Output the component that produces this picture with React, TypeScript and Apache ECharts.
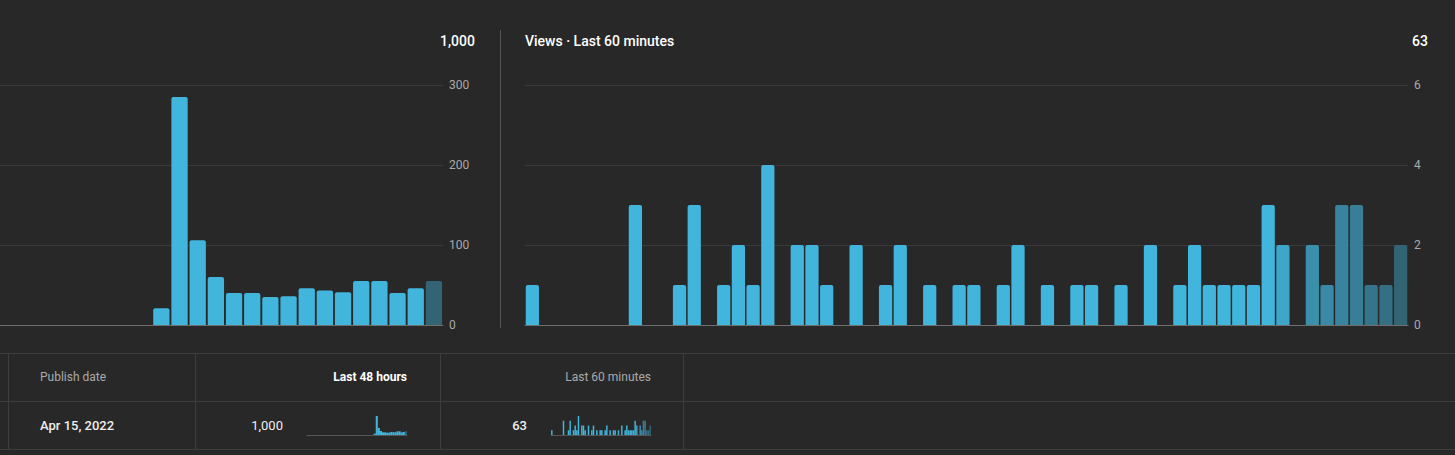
import React, { useEffect, useRef } from "react";
import * as echarts from "echarts";

// Last 48 hours (hourly views)
const hours48: number[] = [
  0, 0, 0, 0, 0, 0, 0, 0, 0, 0, 0, 0, 0, 0, 0, 0,
  0, 0, 0, 0, 0, 0, 0, 0, 0, 0, 0, 0, 0, 0, 0, 0,
  21, 285, 106, 60, 40, 40, 35, 36, 46, 43, 41, 55, 55, 40, 46, 55,
];
// Last 60 minutes (per-minute views)
const minutes60: number[] = [
  1, 0, 0, 0, 0, 0, 0, 3, 0, 0, 1, 3, 0, 1, 2, 1, 4, 0, 2, 2,
  1, 0, 2, 0, 1, 2, 0, 1, 0, 1, 1, 0, 1, 2, 0, 1, 0, 1, 1, 0,
  1, 0, 2, 0, 1, 2, 1, 1, 1, 1, 3, 2, 0, 2, 1, 3, 3, 1, 1, 2,
];
const leftTicks = [0, 100, 200, 300];
const rightTicks = [0, 2, 4, 6];

const totalLeft = "1,000";
const totalRight = "63";
const rightTitle = "Views · Last 60 minutes";
const publishDate = "Apr 15, 2022";
const headerCols = ["Publish date", "Last 48 hours", "Last 60 minutes"];

const MAIN = "#41b5db";
const DARK = "#326473";
// fade colours for most recent minutes (style only)
const minuteFade: Record<number, string> = {
  51: "#3ea6c9",
  53: "#3a90ab",
  54: "#398aa6",
  55: "#38839e",
  56: "#377e96",
  57: "#35758b",
  58: "#346f84",
  59: "#326473",
};

const FONT = "Roboto, 'Noto Sans', sans-serif";

export default function App() {
  const ref = useRef<HTMLDivElement>(null);
  useEffect(() => {
    if (!ref.current) return;
    const chart = echarts.init(ref.current, undefined, { renderer: "svg" });

    const hourData = hours48.map((v, i) => ({
      value: v,
      itemStyle: { color: i === hours48.length - 1 ? DARK : MAIN },
    }));
    const hourDataXY = hours48.map((v, i) => ({
      value: [i, v],
      itemStyle: { color: i === hours48.length - 1 ? DARK : MAIN },
    }));
    const minData = minutes60.map((v, i) => ({
      value: v,
      itemStyle: { color: minuteFade[i] || MAIN },
    }));
    const hourCats = hours48.map((_, i) => String(i));
    const minCats = minutes60.map((_, i) => String(i));

    const lineColor = "#3d3d3d";
    const tableLines: any[] = [];
    [353, 401, 449].forEach((y) =>
      tableLines.push({
        type: "line",
        shape: { x1: 0, y1: y + 0.5, x2: 1455, y2: y + 0.5 },
        style: { stroke: lineColor, lineWidth: 1 },
      })
    );
    [8, 195, 440, 683].forEach((x) =>
      tableLines.push({
        type: "line",
        shape: { x1: x + 0.5, y1: 353, x2: x + 0.5, y2: 449 },
        style: { stroke: lineColor, lineWidth: 1 },
      })
    );

    const txt = (
      x: number,
      y: number,
      text: string,
      opts: { align?: string; color?: string; size?: number; weight?: any }
    ) => ({
      type: "text",
      x,
      y,
      style: {
        text,
        fill: opts.color || "#fff",
        font: `${opts.weight || "normal"} ${opts.size || 12}px ${FONT}`,
        align: opts.align || "left",
        verticalAlign: "middle",
      },
    });

    const yAxisCommon = {
      type: "value",
      position: "right",
      axisLine: { show: false },
      axisTick: { show: false },
      splitLine: { lineStyle: { color: "#3a3a3a", width: 1 } },
      axisLabel: {
        color: "#aaaaaa",
        fontSize: 12,
        fontFamily: FONT,
        margin: 6,
      },
    };

    // visible window of the 48-hour chart (it is scrolled to the latest hours)
    const slotPx = 18.17;
    const leftPlotWidth = 443;
    const hourMax = hours48.length - 0.5;
    const hourMin = hourMax - leftPlotWidth / slotPx;

    chart.setOption({
      animation: false,
      backgroundColor: "#282828",
      grid: [
        { left: 0, width: leftPlotWidth, top: 85, height: 240 },
        { left: 525, width: 883, top: 85, height: 240 },
        { left: 307, width: 100, top: 416, height: 19 },
        { left: 551, width: 100, top: 416, height: 19 },
      ],
      xAxis: [
        {
          type: "value",
          gridIndex: 0,
          min: hourMin,
          max: hourMax,
          axisLine: { onZero: false, lineStyle: { color: "#6f6f6f", width: 1 } },
          axisTick: { show: false },
          axisLabel: { show: false },
          splitLine: { show: false },
        },
        {
          type: "category",
          gridIndex: 1,
          data: minCats,
          axisLine: { lineStyle: { color: "#6f6f6f", width: 1 } },
          axisTick: { show: false },
          axisLabel: { show: false },
        },
        {
          type: "category",
          gridIndex: 2,
          data: hourCats,
          axisLine: { lineStyle: { color: "#555555", width: 1 } },
          axisTick: { show: false },
          axisLabel: { show: false },
        },
        {
          type: "category",
          gridIndex: 3,
          data: minCats,
          axisLine: { lineStyle: { color: "#555555", width: 1 } },
          axisTick: { show: false },
          axisLabel: { show: false },
        },
      ],
      yAxis: [
        {
          ...yAxisCommon,
          gridIndex: 0,
          min: leftTicks[0],
          max: leftTicks[leftTicks.length - 1],
          interval: leftTicks[1] - leftTicks[0],
        },
        {
          ...yAxisCommon,
          gridIndex: 1,
          min: rightTicks[0],
          max: rightTicks[rightTicks.length - 1],
          interval: rightTicks[1] - rightTicks[0],
        },
        {
          type: "value",
          gridIndex: 2,
          min: 0,
          max: Math.max(...hours48),
          show: false,
          splitLine: { show: false },
        },
        {
          type: "value",
          gridIndex: 3,
          min: 0,
          max: Math.max(...minutes60),
          show: false,
          splitLine: { show: false },
        },
      ],
      series: [
        {
          type: "bar",
          xAxisIndex: 0,
          yAxisIndex: 0,
          data: hourDataXY,
          barWidth: 16.3,
          clip: true,
          itemStyle: { borderRadius: [2, 2, 0, 0] },
        },
        {
          type: "bar",
          xAxisIndex: 1,
          yAxisIndex: 1,
          data: minData,
          barCategoryGap: "10%",
          itemStyle: { borderRadius: [2, 2, 0, 0] },
        },
        {
          type: "bar",
          xAxisIndex: 2,
          yAxisIndex: 2,
          data: hourData,
          barCategoryGap: "0%",
        },
        {
          type: "bar",
          xAxisIndex: 3,
          yAxisIndex: 3,
          data: minData,
          barCategoryGap: "10%",
        },
      ],
      graphic: [
        {
          type: "line",
          shape: { x1: 500.5, y1: 30, x2: 500.5, y2: 328 },
          style: { stroke: "#555555", lineWidth: 1 },
        },
        txt(475, 41, totalLeft, { align: "right", size: 14, weight: 500 }),
        txt(525, 41, rightTitle, { size: 14, weight: 500 }),
        txt(1428, 41, totalRight, { align: "right", size: 14, weight: 500 }),
        ...tableLines,
        txt(40, 377, headerCols[0], { color: "#aaaaaa", size: 12 }),
        txt(407, 377, headerCols[1], { align: "right", size: 12, weight: "bold" }),
        txt(651, 377, headerCols[2], { align: "right", color: "#aaaaaa", size: 12 }),
        txt(40, 425, publishDate, { size: 13, weight: 500, color: "#eeeeee" }),
        txt(283, 425, totalLeft, { align: "right", size: 13, color: "#eeeeee" }),
        txt(527, 425, totalRight, { align: "right", size: 13, weight: 500, color: "#eeeeee" }),
      ],
    });

    return () => chart.dispose();
  }, []);

  return (
    <div
      ref={ref}
      style={{
        position: "fixed",
        left: 0,
        top: 0,
        width: 1455,
        height: 455,
        background: "#282828",
      }}
    />
  );
}
